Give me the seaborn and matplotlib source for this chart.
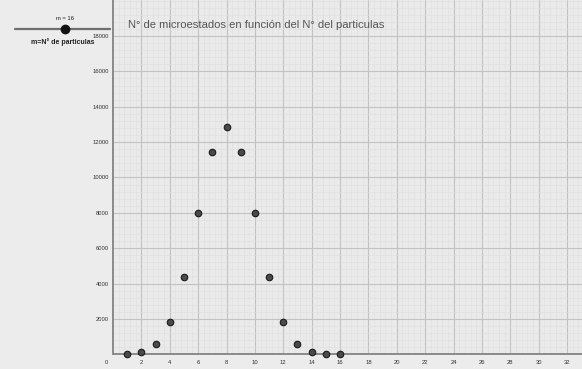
import matplotlib
matplotlib.use("Agg")
import matplotlib.pyplot as plt
import seaborn as sns
import pandas as pd
from matplotlib.ticker import MultipleLocator, FixedLocator

# Number of microstates for each particle count (m = 16)
particulas = [1, 2, 3, 4, 5, 6, 7, 8, 9, 10, 11, 12, 13, 14, 15, 16]
microestados = [16, 120, 560, 1820, 4368, 8008, 11440, 12870,
                11440, 8008, 4368, 1820, 560, 120, 16, 1]
x_ticks = list(range(2, 33, 2))
y_ticks = list(range(2000, 18001, 2000))

titulo = "N° de microestados en función del N° del particulas"
slider_valor = "m = 16"
slider_nombre = "m=N° de particulas"

sns.set_theme(style="white")
plt.rcParams["font.family"] = ["Liberation Sans", "DejaVu Sans"]

W, H = 582, 369
fig = plt.figure(figsize=(W / 100, H / 100), dpi=100)
fig.patch.set_facecolor("#ececec")

x0, y0 = 113, 354.3
ax = fig.add_axes([x0 / W, (H - y0) / H, (W - x0) / W, y0 / H])
ax.set_facecolor("#eaeaea")

df = pd.DataFrame({"particulas": particulas, "microestados": microestados})
sns.scatterplot(data=df, x="particulas", y="microestados", ax=ax,
                s=22, color="#4a4a4a", edgecolor="#1a1a1a", linewidth=0.8,
                zorder=5, clip_on=False)

ax.set_xlim(0, 33.05)
ax.set_ylim(0, 20035)

ax.xaxis.set_major_locator(FixedLocator(x_ticks))
ax.yaxis.set_major_locator(FixedLocator(y_ticks))
ax.xaxis.set_minor_locator(MultipleLocator(0.4))
ax.yaxis.set_minor_locator(MultipleLocator(400))
ax.grid(which="minor", color="#dfdfdf", linewidth=0.45)
ax.grid(which="major", color="#c2c2c2", linewidth=0.8)
ax.set_axisbelow(True)

ax.tick_params(axis="both", which="both", length=0, labelsize=4.2,
               labelcolor="#333333")
ax.tick_params(axis="x", pad=4)
ax.tick_params(axis="y", pad=3)
ax.set_xlabel("")
ax.set_ylabel("")

for side in ("top", "right"):
    ax.spines[side].set_visible(False)
for side in ("left", "bottom"):
    ax.spines[side].set_color("#8a8a8a")
    ax.spines[side].set_linewidth(1.4)

# shared origin label
ax.text(-0.35, -300, "0", fontsize=4.2, color="#333333",
        ha="right", va="top")

# title inside the graphics view
fig.text(128 / W, 1 - 25 / H, titulo, fontsize=8.1, color="#555555",
         ha="left", va="center")

# slider widget
fig.add_artist(plt.Line2D([15 / W, 110 / W], [1 - 29 / H, 1 - 29 / H],
                          color="#6e6e6e", linewidth=1.6))
fig.add_artist(plt.Line2D([65 / W], [1 - 29 / H], marker="o",
                          markersize=6, color="#111111"))
fig.text(65 / W, 1 - 19 / H, slider_valor, fontsize=4.2, color="#222222",
         ha="center", va="center")
fig.text(63 / W, 1 - 42 / H, slider_nombre, fontsize=5, color="#222222",
         ha="center", va="center", fontweight="bold")

fig.savefig("out.png", dpi=100, facecolor=fig.get_facecolor())
